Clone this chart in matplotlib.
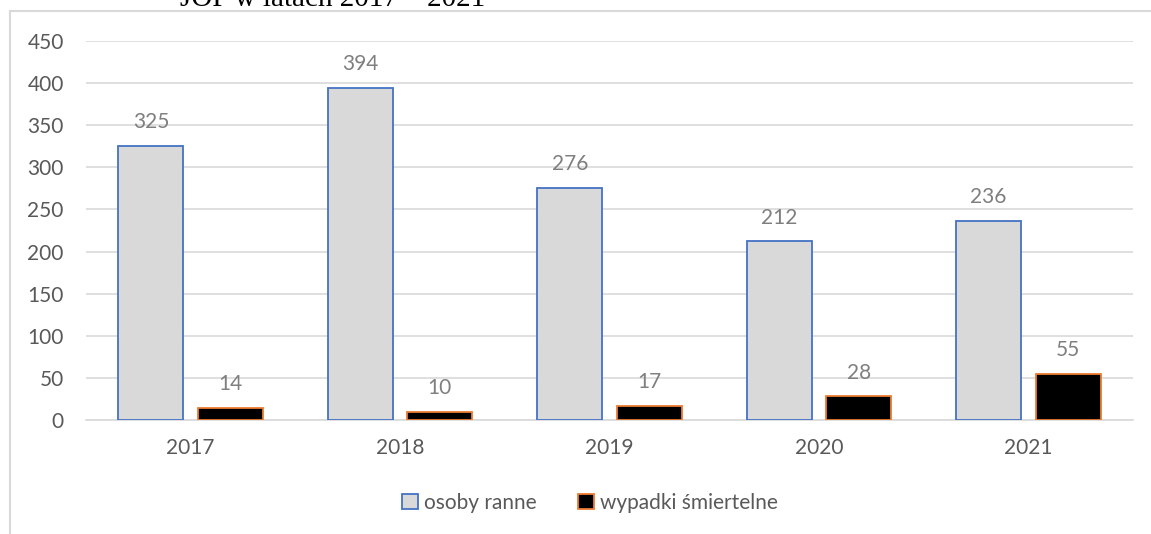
import matplotlib.pyplot as plt
import numpy as np
from matplotlib.lines import Line2D

# dane
lata = ['2017', '2018', '2019', '2020', '2021']
osoby_ranne = [325, 394, 276, 212, 236]
wypadki_smiertelne = [14, 10, 17, 28, 55]

plt.rcParams['font.family'] = ['Lato', 'DejaVu Sans']

fig = plt.figure(figsize=(11.51, 5.34), dpi=100)
ax = fig.add_axes([86 / 1151, 114 / 534, 1047 / 1151, 379 / 534])

x = np.arange(len(lata))
szer = 0.31
off = 0.19

b1 = ax.bar(x - off, osoby_ranne, szer, color='#D9D9D9', edgecolor='#4472C4',
            linewidth=1.3, label='osoby ranne', zorder=3)
b2 = ax.bar(x + off, wypadki_smiertelne, szer, color='black', edgecolor='#ED7D31',
            linewidth=1.3, label='wypadki śmiertelne', zorder=3)

for bars, vals in [(b1, osoby_ranne), (b2, wypadki_smiertelne)]:
    for r, v in zip(bars, vals):
        ax.annotate(str(v), (r.get_x() + r.get_width() / 2, v),
                    xytext=(0, 10), textcoords='offset points',
                    ha='center', va='bottom', fontsize=15, color='#7F7F7F')

ax.set_xlim(-0.5, 4.5)
ax.set_ylim(0, 450)
ax.set_yticks(range(0, 451, 50))
ax.set_xticks(x)
ax.set_xticklabels(lata)
ax.yaxis.grid(True, color='#D9D9D9', linewidth=1.2, zorder=0)
ax.set_axisbelow(True)
for s in ['top', 'right', 'left']:
    ax.spines[s].set_visible(False)
ax.spines['bottom'].set_color('#D9D9D9')
ax.spines['bottom'].set_linewidth(1.2)
ax.tick_params(length=0, labelsize=15, labelcolor='#595959')
ax.tick_params(axis='x', pad=13)
ax.tick_params(axis='y', pad=16)

leg = fig.legend(handles=[b1, b2], loc='center', bbox_to_anchor=(590 / 1151, 1 - 503 / 534),
                 ncol=2, frameon=False, fontsize=15, handlelength=0.75, handleheight=0.75,
                 handletextpad=0.3, columnspacing=2.0)
for t in leg.get_texts():
    t.set_color('#595959')

# ramka wykresu
fig.add_artist(Line2D([10 / 1151, 10 / 1151], [0, 1 - 11 / 534], color='#D9D9D9', linewidth=1.5))
fig.add_artist(Line2D([10 / 1151, 1], [1 - 11 / 534, 1 - 11 / 534], color='#D9D9D9', linewidth=1.5))

# ucięty tytuł (w oryginale też ucięty u góry)
fig.text(180 / 1151, 1 - 6 / 534, 'JOP w latach 2017 – 2021', fontsize=21,
         family=['Liberation Serif', 'DejaVu Serif'], color='black', va='baseline', ha='left')

fig.savefig('out.png', dpi=100)
